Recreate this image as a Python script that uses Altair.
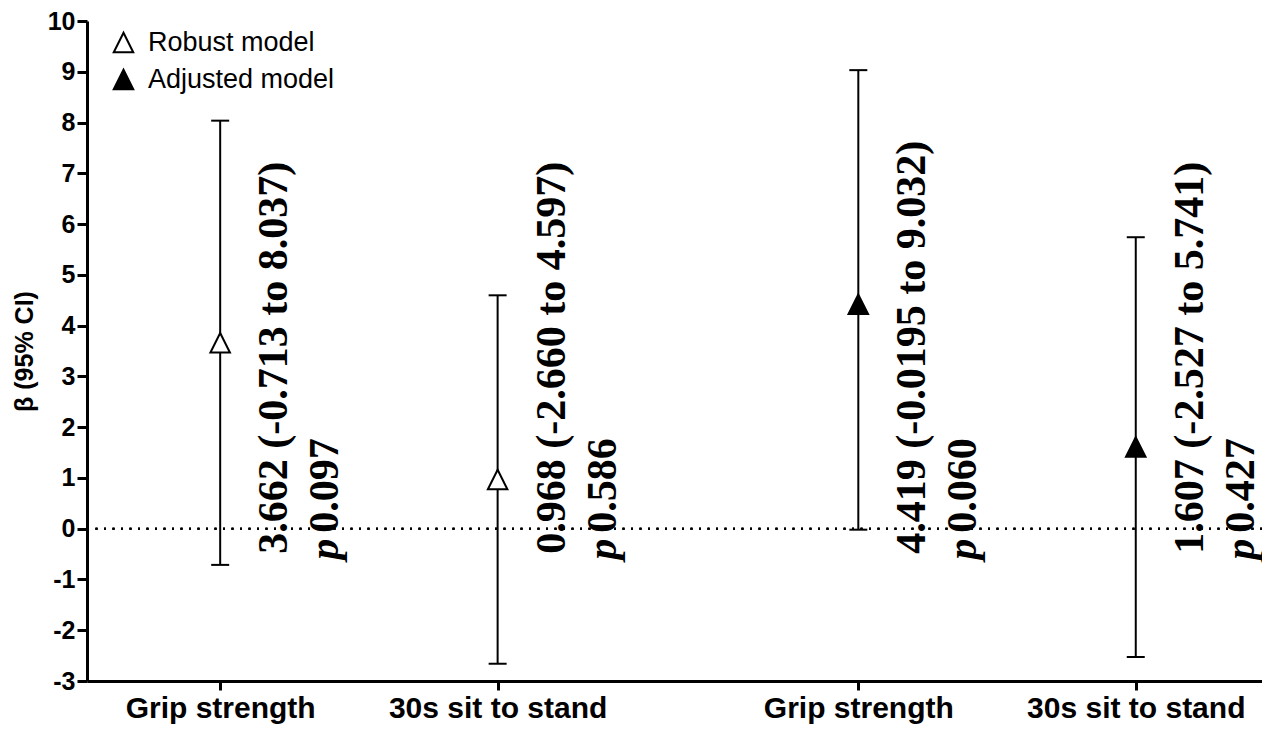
import altair as alt
import pandas as pd

# ---- data ----
outcomes = ["Grip strength", "30s sit to stand", "Grip strength", "30s sit to stand"]
models = ["Robust model", "Robust model", "Adjusted model", "Adjusted model"]
beta_txt = ["3.662", "0.968", "4.419", "1.607"]
lower_txt = ["-0.713", "-2.660", "-0.0195", "-2.527"]
upper_txt = ["8.037", "4.597", "9.032", "5.741"]
p_txt = ["0.097", "0.586", "0.060", "0.427"]
y_ticks = list(range(-3, 11))

model_order = ["Robust model", "Adjusted model"]
GROUP_GAP = 2.3  # distance (in category steps) between the two model groups

slot = []
count = {m: 0 for m in model_order}
for o, m in zip(outcomes, models):
    slot.append(count[m] + model_order.index(m) * GROUP_GAP)
    count[m] += 1

df = pd.DataFrame({
    "outcome": outcomes,
    "model": models,
    "pos": slot,
    "beta": [float(v) for v in beta_txt],
    "lower": [float(v) for v in lower_txt],
    "upper": [float(v) for v in upper_txt],
    "ci": [f"{b} ({l} to {u})" for b, l, u in zip(beta_txt, lower_txt, upper_txt)],
    "p": p_txt,
})

label_expr = "''"
for pos, name in reversed(list(zip(slot, outcomes))):
    label_expr = f"abs(datum.value - {pos}) < 0.01 ? '{name}' : " + label_expr

TRI = "M0,-1L1,1L-1,1Z"

x_enc = alt.X(
    "pos:Q",
    scale=alt.Scale(domain=[-0.48, 3.755], nice=False, zero=False),
    axis=alt.Axis(
        title=None, values=slot, labelExpr=label_expr,
        labelFlush=False, labelOverlap=False,
    ),
)
y_scale = alt.Scale(domain=[-3, 10], nice=False, zero=False)
y_axis = alt.Axis(title="β (95% CI)", values=y_ticks, labelExpr="datum.value + ''")

base = alt.Chart(df)

bars = base.mark_rule(color="black", strokeWidth=2).encode(
    x=x_enc, y=alt.Y("lower:Q", scale=y_scale, axis=y_axis), y2="upper:Q"
)

zero = base.mark_rule(color="black", strokeWidth=2, strokeDash=[2, 6.5]).encode(
    y=alt.datum(0)
)

cap_lo = base.mark_tick(orient="horizontal", size=18, thickness=2, color="black", opacity=1).encode(
    x=x_enc, y=alt.Y("lower:Q")
)
cap_hi = base.mark_tick(orient="horizontal", size=18, thickness=2, color="black", opacity=1).encode(
    x=x_enc, y=alt.Y("upper:Q")
)

points = base.mark_point(
    shape=TRI, size=380, filled=True, stroke="black", strokeWidth=2, opacity=1
).encode(
    x=x_enc,
    y=alt.Y("beta:Q"),
    fill=alt.Fill(
        "model:N",
        scale=alt.Scale(domain=model_order, range=["white", "black"]),
        legend=alt.Legend(
            title=None, orient="none", legendX=23, legendY=8, padding=0,
            symbolType=TRI, symbolSize=380, symbolStrokeColor="black",
            symbolStrokeWidth=2, symbolOpacity=1, labelFont="Liberation Sans",
            labelFontSize=27, labelColor="black", labelOffset=11, rowPadding=8,
            labelFontWeight="normal", labelLimit=0,
        ),
    ),
)

SERIF = "Liberation Serif"
FS = 42
ci_text = base.mark_text(
    angle=270, align="left", baseline="alphabetic", font=SERIF, fontWeight="bold",
    fontSize=FS, dx=-25, dy=67, color="black",
).encode(x=x_enc, y=alt.datum(0), text="ci:N")

p_letter = base.mark_text(
    angle=270, align="left", baseline="alphabetic", font=SERIF, fontWeight="bold",
    fontStyle="italic", fontSize=FS, dx=-31, dy=118, color="black", text="p",
).encode(x=x_enc, y=alt.datum(0))

p_value = base.mark_text(
    angle=270, align="left", baseline="alphabetic", font=SERIF, fontWeight="bold",
    fontSize=FS, dx=-4, dy=118, color="black",
).encode(x=x_enc, y=alt.datum(0), text="p:N")

chart = alt.layer(
    bars, zero, cap_lo, cap_hi, points, ci_text, p_letter, p_value
).properties(
    width=1175, height=660,
    autosize=alt.AutoSizeParams(type="none"),
    padding={"left": 79, "top": 13, "right": 0, "bottom": 43},
).configure_view(stroke=None).configure_axis(
    domainColor="black", domainWidth=3, tickColor="black", tickWidth=3,
    labelFont="Liberation Sans", labelFontWeight="bold", labelColor="black",
    grid=False, labelLimit=0,
).configure_axisY(
    labelFontSize=25, tickSize=10, labelPadding=2,
    titleFontSize=25, titlePadding=10, titleFont="Liberation Sans",
    titleFontWeight="bold", titleColor="black",
).configure_axisX(
    labelFontSize=30, tickSize=9, labelPadding=3,
)

chart.save("out.html", embed_options={"renderer": "svg", "actions": False})
